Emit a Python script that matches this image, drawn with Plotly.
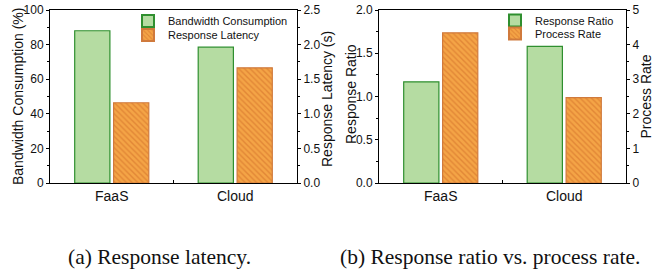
import plotly.graph_objects as go

categories = ["FaaS", "Cloud"]

# (a) Response latency
bandwidth_consumption = [88.0, 78.5]      # %
response_latency = [1.16, 1.665]          # s

# (b) Response ratio vs. process rate
response_ratio = [1.17, 1.58]
process_rate = [4.34, 2.47]

GREEN_FILL = "#b5dca2"
GREEN_EDGE = "#2f8f2f"
ORANGE_FILL = "#f4a446"
ORANGE_HATCH = "#cf6a26"
ORANGE_EDGE = "#d07a3c"

FONT = "Liberation Sans, Arial, sans-serif"
W, H = 668, 271

def px(x):
    return x / W

def py(y):
    return 1 - y / H

BAR_W = 0.285

def green_bar(name, y, xa, ya, legend):
    return go.Bar(
        x=categories, y=y, name=name, xaxis=xa, yaxis=ya,
        width=BAR_W, offset=-0.30,
        marker=dict(color=GREEN_FILL, line=dict(color=GREEN_EDGE, width=1.2)),
        legend=legend,
    )

def orange_bar(name, y, xa, ya, legend):
    return go.Bar(
        x=categories, y=y, name=name, xaxis=xa, yaxis=ya,
        width=BAR_W, offset=0.015,
        marker=dict(
            color=ORANGE_FILL,
            line=dict(color=ORANGE_EDGE, width=1.2),
            pattern=dict(shape="\\", fgcolor=ORANGE_HATCH, bgcolor=ORANGE_FILL,
                         size=4, solidity=0.35, fillmode="overlay"),
        ),
        legend=legend,
    )

fig = go.Figure()
fig.add_trace(green_bar("Bandwidth Consumption", bandwidth_consumption, "x", "y", "legend"))
fig.add_trace(orange_bar("Response Latency", response_latency, "x", "y2", "legend2"))
fig.add_trace(green_bar("Response Ratio", response_ratio, "x2", "y3", "legend3"))
fig.add_trace(orange_bar("Process Rate", process_rate, "x2", "y4", "legend4"))

dom_y = [py(183), py(10)]
dom_x1 = [px(50), px(297)]
dom_x2 = [px(379), px(626)]

tickfont = dict(family=FONT, size=12, color="#111")
titlefont = dict(family=FONT, size=14, color="#111")

def yax(rng, dtick, mdtick, side, anchor, fmt, overlaying=None):
    d = dict(
        range=rng, dtick=dtick, tick0=0, side=side, anchor=anchor,
        domain=dom_y, showgrid=False, zeroline=False, automargin=False,
        showline=True, linecolor="black", linewidth=1,
        ticks="outside", ticklen=3, tickcolor="black", tickwidth=1,
        minor=dict(dtick=mdtick, ticks="outside", ticklen=2, tickcolor="black", showgrid=False),
        tickfont=tickfont, ticklabelstandoff=0, tickformat=fmt,
        fixedrange=True,
    )
    if overlaying:
        d["overlaying"] = overlaying
    return d

def xax(domain, anchor):
    return dict(
        domain=domain, anchor=anchor, range=[-0.5, 1.5], type="category",
        showline=True, linecolor="black", linewidth=1, mirror=True, automargin=False,
        showgrid=False, ticks="inside", tickson="boundaries", ticklen=3,
        tickcolor="black", fixedrange=True,
        tickfont=dict(family=FONT, size=14, color="#111"),
    )

def ytitle(text, x, y):
    return dict(text=text, x=px(x), y=py(y), xref="paper", yref="paper",
                textangle=-90, showarrow=False, font=titlefont,
                xanchor="center", yanchor="middle")

CAPTION_FONT = dict(family="Liberation Serif, Times New Roman, serif", size=21.5, color="#111")

def caption(text, x, y):
    return dict(text=text, x=px(x), y=py(y), xref="paper", yref="paper",
                xanchor="center", yanchor="middle", showarrow=False, font=CAPTION_FONT)

def legend_at(x, y):
    return dict(x=px(x), y=py(y), xanchor="left", yanchor="middle",
                bgcolor="rgba(0,0,0,0)", font=dict(family=FONT, size=11, color="#111"),
                itemsizing="constant", itemclick=False, itemdoubleclick=False)

fig.update_layout(
    width=W, height=H,
    margin=dict(l=0, r=0, t=0, b=0),
    paper_bgcolor="white", plot_bgcolor="white",
    barmode="overlay",
    xaxis=xax(dom_x1, "y"),
    xaxis2=xax(dom_x2, "y3"),
    yaxis=yax([0, 100], 20, 10, "left", "x", "d"),
    yaxis2=yax([0, 2.5], 0.5, 0.25, "right", "x", ".1f", overlaying="y"),
    yaxis3=yax([0, 2.0], 0.5, 0.25, "left", "x2", ".1f"),
    yaxis4=yax([0, 5], 1, 0.5, "right", "x2", "d", overlaying="y3"),
    legend=legend_at(128, 21),
    legend2=legend_at(128, 35),
    legend3=legend_at(495, 20.5),
    legend4=legend_at(495, 33.5),
    showlegend=True,
    annotations=[
        ytitle("Bandwidth Consumption (%)", 18, 97),
        ytitle("Response Latency (s)", 327, 99),
        ytitle("Response Ratio", 351, 94),
        ytitle("Process Rate", 646, 96.5),
        caption("(a) Response latency.", 159, 257),
        caption("(b) Response ratio vs. process rate.", 490, 257),
    ],
)

fig.write_html(
    "out.html",
    config={"displayModeBar": False},
    post_script="document.body.style.margin='0';document.body.style.overflow='hidden';",
)
